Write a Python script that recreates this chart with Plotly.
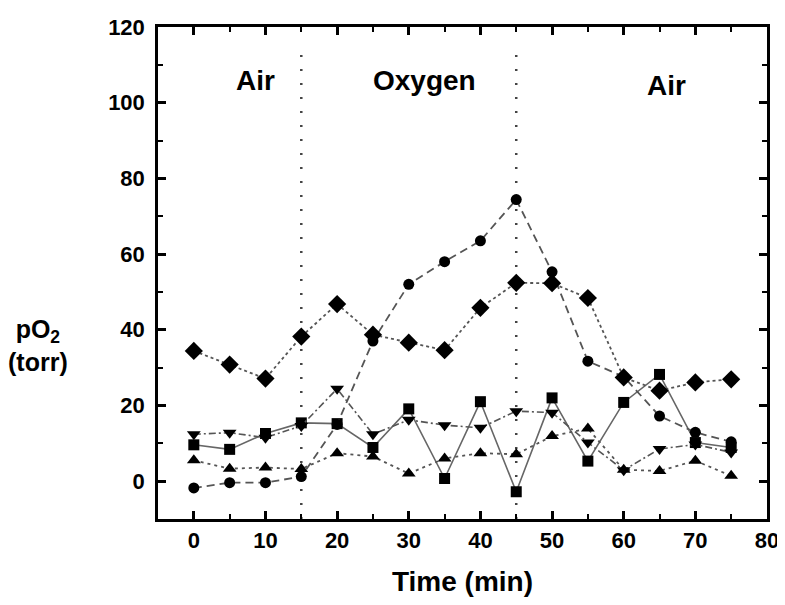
import plotly.graph_objects as go

time_min = [0, 5, 10, 15, 20, 25, 30, 35, 40, 45, 50, 55, 60, 65, 70, 75]

circles = [-1.8, -0.4, -0.4, 1.2, 15.0, 37.0, 52.0, 58.0, 63.5, 74.4, 55.3, 31.7, 27.6, 17.2, 12.9, 10.4]
diamonds = [34.4, 30.8, 27.1, 38.2, 46.8, 38.7, 36.6, 34.6, 45.8, 52.4, 52.3, 48.4, 27.4, 23.9, 26.1, 26.9]
squares = [9.6, 8.4, 12.6, 15.4, 15.2, 8.9, 19.1, 0.7, 21.0, -2.8, 22.0, 5.3, 20.8, 28.2, 10.2, 8.9]
down_tri = [12.4, 12.8, 11.5, 14.6, 24.4, 12.4, 16.2, 14.8, 14.1, 18.5, 18.1, 10.2, 2.9, 8.5, 9.7, 7.6]
up_tri = [5.5, 3.3, 3.6, 3.2, 7.4, 6.5, 2.0, 6.0, 7.4, 7.1, 11.9, 13.9, 3.0, 2.7, 5.4, 1.4]

switch_times = [15, 45]
phase_labels = ["Air", "Oxygen", "Air"]
phase_x = [8.6, 32.2, 66.0]
phase_y = [105.8, 105.8, 104.6]

FONT = "Liberation Sans, Arial, sans-serif"

fig = go.Figure()

# vertical dotted switch lines
for t in switch_times:
    fig.add_trace(go.Scatter(
        x=[t, t], y=[-10, 115], mode="lines",
        line=dict(color="#444", width=2.5, dash="2px,12px"),
        hoverinfo="skip", showlegend=False))

series = [
    (squares, "square", "solid", "#666", 1.6, 11),
    (up_tri, "triangle-up", "3px,4px", "#555", 1.8, 12),
    (down_tri, "triangle-down", "7px,3px,2px,3px", "#555", 1.6, 12),
    (circles, "circle", "8px,5px", "#555", 1.8, 11),
    (diamonds, "diamond", "3px,3px", "#555", 1.8, 14),
]
for vals, sym, dash, col, lw, ms in series:
    fig.add_trace(go.Scatter(
        x=time_min, y=vals, mode="lines+markers",
        line=dict(color=col, width=lw, dash=dash),
        marker=dict(symbol=sym, size=ms, color="black", line=dict(width=0)),
        showlegend=False))

for lab, xx, yy in zip(phase_labels, phase_x, phase_y):
    fig.add_annotation(x=xx, y=yy, text="<b>%s</b>" % lab, showarrow=False,
                       font=dict(size=28, color="black", family=FONT))

fig.add_annotation(xref="paper", yref="paper", x=-0.197, y=0.352, xanchor="center",
                   yanchor="middle",
                   text="<b>pO<sub>2</sub></b><br><b>(torr)</b>", showarrow=False,
                   align="center", font=dict(size=25, color="black", family=FONT))

axis_common = dict(
    showgrid=False, zeroline=False, showline=True, linecolor="black", linewidth=2.5,
    mirror="ticks", ticks="inside", ticklen=8, tickwidth=2.5, tickcolor="black",
    tickfont=dict(size=22, color="black", family=FONT, weight="bold"),
    automargin=False, ticklabeloverflow="allow",
)

fig.update_xaxes(range=[-5, 80], dtick=10, tick0=0,
                 minor=dict(dtick=5, ticks="inside", ticklen=5, tickwidth=2, tickcolor="black"),
                 title=dict(text="<b>Time (min)</b>", font=dict(size=28, color="black", family=FONT), standoff=27),
                 **axis_common)
fig.update_yaxes(range=[-10, 120], dtick=20, tick0=0, ticklabelstandoff=6,
                 minor=dict(dtick=10, ticks="inside", ticklen=5, tickwidth=2, tickcolor="black"),
                 **axis_common)

# page body has an 8px default margin; size the figure to fit the window
fig.update_layout(
    width=777, height=589,
    margin=dict(l=150, r=18, t=19, b=78),
    paper_bgcolor="white", plot_bgcolor="white",
    font=dict(family=FONT, color="black"),
)

fig.write_html("out.html")
